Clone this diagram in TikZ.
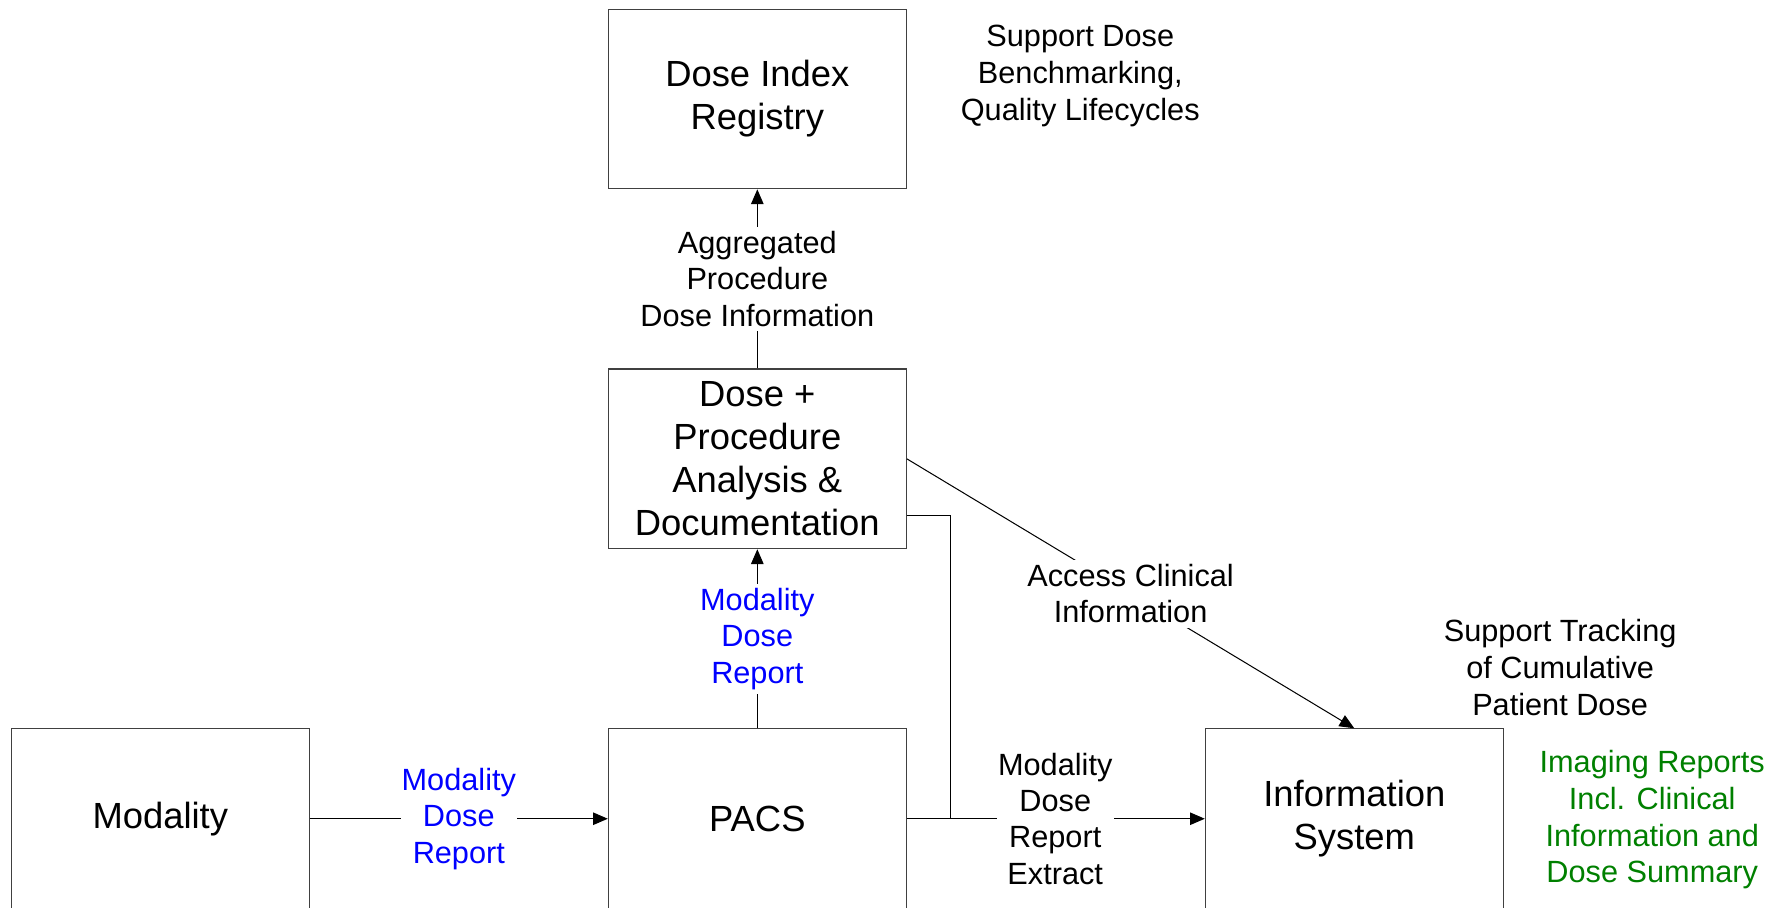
\documentclass[tikz,border=0pt]{standalone}
\usepackage{fontspec}
\setmainfont{Liberation Sans}
\usetikzlibrary{arrows.meta,calc}
\definecolor{lblblue}{RGB}{0,0,255}
\definecolor{lblgreen}{RGB}{0,128,0}
\begin{document}
\begin{tikzpicture}[x=1pt,y=-1pt,
  box/.style={draw=black!75, line width=1pt, minimum width=262pt, minimum height=158pt,
    align=center, font=\fontsize{32}{38}\selectfont, inner sep=0pt},
  lbl/.style={align=center, font=\fontsize{27}{32}\selectfont, fill=white, inner xsep=1pt, inner ysep=4pt},
  note/.style={align=center, font=\fontsize{27}{32.3}\selectfont, inner sep=0pt},
  conn/.style={line width=0.9pt},
  arr/.style={conn, -{Triangle[length=13pt,width=11pt]}}]
\useasboundingbox (0,0) rectangle (1568,798);
% boxes
\node[box] (DIR) at (666,87) {Dose Index\\Registry};
\node[box] (DPA) at (666,403.5) {Dose +\\Procedure\\Analysis \&\\Documentation};
\node[box] (MOD) at (141,720) {Modality};
\node[box] (PACS) at (666,720) {PACS};
\node[box] (IS) at (1191,720) {Information\\System};
% free notes
\node[note] (sd) at (950,67) {Support Dose\\Benchmarking,\\Quality Lifecycles};
\node[note] (st) at (1372,587) {Support Tracking\\of Cumulative\\Patient Dose};
\node[note, text=lblgreen] (ir) at (1453,721) {Imaging Reports\\Incl. Clinical\\Information and\\Dose Summary};
% connectors
\coordinate (jn) at (836,720);
\draw[arr] (MOD.east) -- node[lbl, text=lblblue] {Modality\\Dose\\Report} (PACS.west);
\draw[arr] (PACS.north) -- node[lbl, text=lblblue] {Modality\\Dose\\Report} (DPA.south);
\draw[arr] (DPA.north) -- node[lbl] {Aggregated\\Procedure\\Dose Information} (DIR.south);
\draw[conn] ([yshift=30pt]DPA.south east) -| (jn);
\draw[arr] (PACS.east) -- node[lbl, xshift=-0.5pt] {Modality\\Dose\\Report\\Extract} (IS.west);
\draw[arr] (DPA.east) -- node[lbl] {Access Clinical\\Information} (IS.north);
\end{tikzpicture}
\end{document}
